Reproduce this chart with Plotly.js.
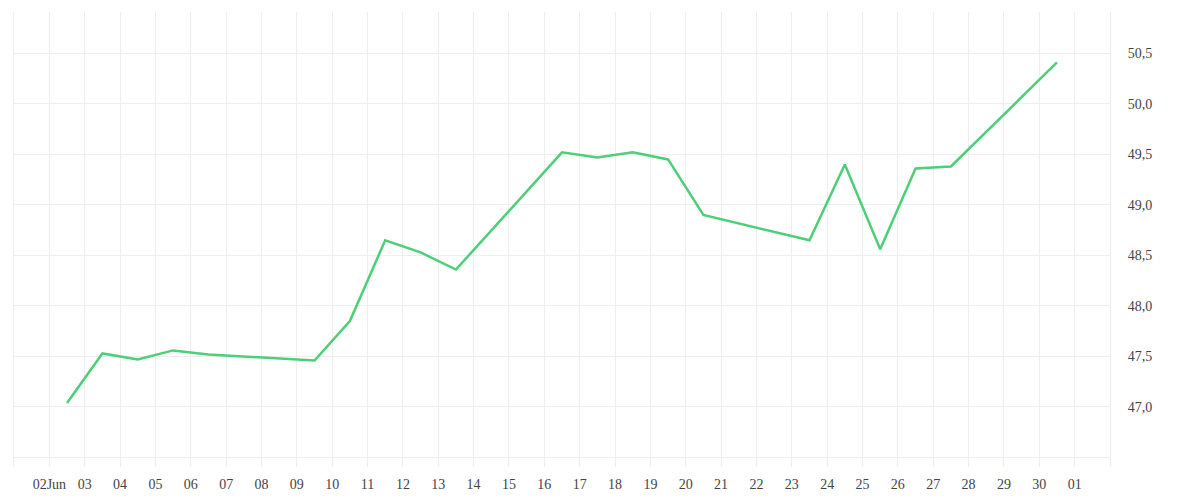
<!DOCTYPE html>
<html>
<head>
<meta charset="utf-8">
<script src="https://cdn.plot.ly/plotly-3.0.1.min.js"></script>
<style>html,body{margin:0;padding:0;background:#fff;}#chart{width:1200px;height:500px;}</style>
</head>
<body>
<div id="chart"></div>
<script>
// Data
const dates = [
  "2025-06-02 12:00","2025-06-03 12:00","2025-06-04 12:00","2025-06-05 12:00","2025-06-06 12:00",
  "2025-06-09 12:00","2025-06-10 12:00","2025-06-11 12:00","2025-06-12 12:00","2025-06-13 12:00",
  "2025-06-16 12:00","2025-06-17 12:00","2025-06-18 12:00","2025-06-19 12:00","2025-06-20 12:00",
  "2025-06-23 12:00","2025-06-24 12:00","2025-06-25 12:00","2025-06-26 12:00","2025-06-27 12:00",
  "2025-06-30 12:00"
];
const values = [
  47.04, 47.53, 47.47, 47.56, 47.52,
  47.46, 47.85, 48.65, 48.53, 48.36,
  49.52, 49.47, 49.52, 49.45, 48.90,
  48.65, 49.40, 48.56, 49.36, 49.38,
  50.41
];

const xTickVals = [
  "2025-06-01","2025-06-02","2025-06-03","2025-06-04","2025-06-05","2025-06-06","2025-06-07","2025-06-08",
  "2025-06-09","2025-06-10","2025-06-11","2025-06-12","2025-06-13","2025-06-14","2025-06-15","2025-06-16",
  "2025-06-17","2025-06-18","2025-06-19","2025-06-20","2025-06-21","2025-06-22","2025-06-23","2025-06-24",
  "2025-06-25","2025-06-26","2025-06-27","2025-06-28","2025-06-29","2025-06-30","2025-07-01","2025-07-02"
];
const xTickText = [
  "","02Jun","03","04","05","06","07","08",
  "09","10","11","12","13","14","15","16",
  "17","18","19","20","21","22","23","24",
  "25","26","27","28","29","30","01",""
];
const yTickVals = [46.5, 47.0, 47.5, 48.0, 48.5, 49.0, 49.5, 50.0, 50.5];
const yTickText = ["", "47,0", "47,5", "48,0", "48,5", "49,0", "49,5", "50,0", "50,5"];

const trace = {
  x: dates,
  y: values,
  type: "scatter",
  mode: "lines",
  line: {color: "#4ccf78", width: 2.5},
  hoverinfo: "x+y"
};

const gridColor = "#eeeeee";
const layout = {
  width: 1200,
  height: 500,
  margin: {l: 14, r: 90, t: 12, b: 33},
  paper_bgcolor: "#ffffff",
  plot_bgcolor: "#ffffff",
  showlegend: false,
  font: {family: "Liberation Serif", size: 14, color: "#444"},
  xaxis: {
    type: "date",
    range: ["2025-06-01", "2025-07-02"],
    tickmode: "array",
    tickvals: xTickVals,
    ticktext: xTickText,
    showgrid: true,
    gridcolor: gridColor,
    gridwidth: 1,
    zeroline: false,
    showline: false,
    ticks: "",
    ticklabelstandoff: 7,
    tickfont: {family: "Liberation Serif", size: 14, color: "#444"}
  },
  yaxis: {
    side: "right",
    range: [46.406, 50.909],
    tickmode: "array",
    tickvals: yTickVals,
    ticktext: yTickText,
    showgrid: true,
    gridcolor: gridColor,
    gridwidth: 1,
    zeroline: false,
    showline: true,
    mirror: true,
    linecolor: gridColor,
    linewidth: 1,
    ticks: "",
    ticklabelstandoff: 14,
    tickfont: {family: "Liberation Serif", size: 14, color: "#444"}
  }
};

Plotly.newPlot("chart", [trace], layout, {displayModeBar: false, staticPlot: true});
</script>
</body>
</html>
